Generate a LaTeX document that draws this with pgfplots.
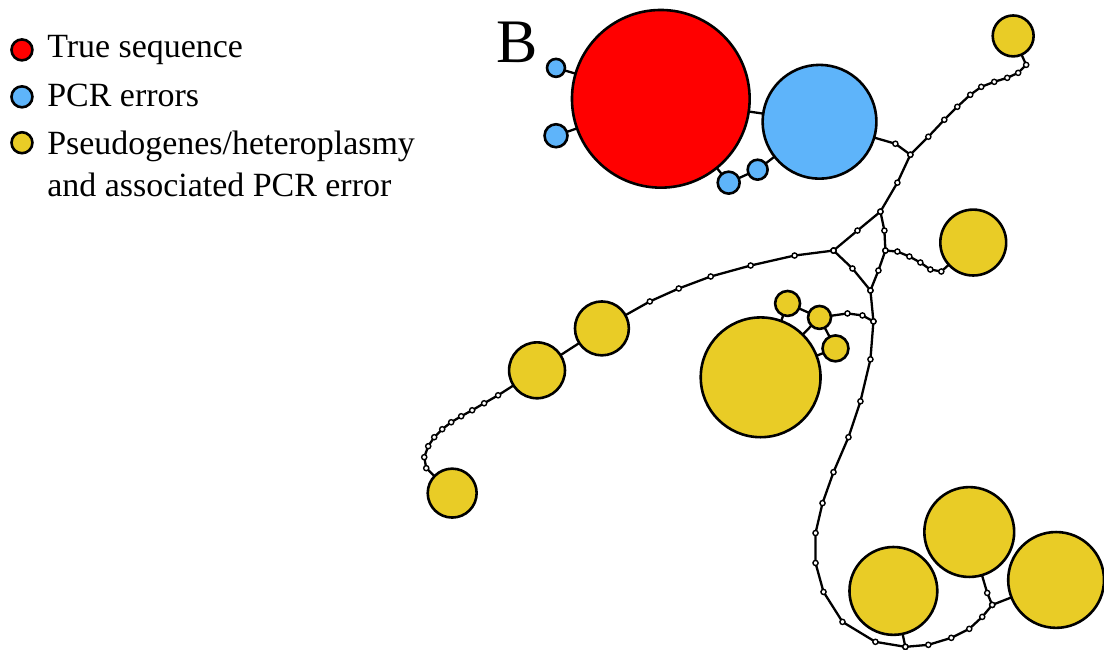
\documentclass[border=0pt]{standalone}
\usepackage{fontspec}
\setmainfont{Liberation Serif}
\usepackage{pgfplots}
\pgfplotsset{compat=1.18}
\definecolor{tred}{RGB}{255,0,0}
\definecolor{pblue}{RGB}{94,180,250}
\definecolor{pyel}{RGB}{233,204,38}
\pgfplotsset{
  edge/.style={black, line width=1.15pt, mark=*, mark size=1.3pt,
    mark options={fill=white, draw=black, line width=0.7pt, solid}},
  plain/.style={black, line width=1.15pt, no marks},
  hap/.style={only marks, scatter, mark=*,
    scatter/use mapped color={draw=black, fill=#1},
    visualization depends on={\thisrow{r}/2 \as \rr},
    scatter/@pre marker code/.append style={/tikz/mark size=\rr pt},
    mark options={line width=1.3pt}},
}
\begin{document}
\begin{tikzpicture}
\begin{axis}[
  x=0.5pt, y=0.5pt, y dir=reverse,
  xmin=0, xmax=1104, ymin=0, ymax=649,
  hide axis, clip=true,
]
% edges among true sequence and PCR errors
\addplot[plain] coordinates {(662,99) (557,68)};
\addplot[plain] coordinates {(662,99) (557,136)};
\addplot[plain] coordinates {(662,99) (730,183) (759,170) (821,122)};
\addplot[plain] coordinates {(662,99) (821,122)};
% small yellow cluster
\addplot[plain] coordinates {(762,378) (789,304) (821,318) (762,378)};
\addplot[plain] coordinates {(821,318) (837,349) (762,378)};
% network paths with mutation steps
\addplot[edge] coordinates {(821,122) (897,144) (912,155) (930,137) (946,120) (959,107) (972,95) (983,87) (996,82) (1009,78) (1020,73) (1028,65) (1015,36)};
\addplot[edge] coordinates {(912,155) (899,183) (882,212)};
\addplot[edge] coordinates {(835,251) (859,231) (882,212) (886,231) (887,251) (880,271) (872,291) (854,269) (835,251)};
\addplot[edge] coordinates {(887,251) (899,252) (911,257) (922,263) (932,270) (943,272) (975,243)};
\addplot[edge] coordinates {(835,251) (796,256) (752,266) (712,277) (680,289) (651,302) (603,329)};
\addplot[plain] coordinates {(603,329) (538,371)};
\addplot[edge] coordinates {(538,371) (499,396) (485,404) (473,411) (462,417) (452,423) (443,430) (435,438) (429,447) (425,458) (427,469) (453,494)};
\addplot[edge] coordinates {(872,291) (875,322) (872,360) (862,402) (850,438) (835,473) (824,504) (817,534) (817,564) (825,593) (844,623) (877,643) (907,648) (930,646) (953,639) (971,630) (984,618) (994,606) (1058,581)};
\addplot[edge] coordinates {(994,606) (989,594) (971,533)};
\addplot[edge] coordinates {(907,648) (895,592)};
\addplot[edge] coordinates {(875,322) (864,316) (849,314) (821,318)};
% haplotype circles
\addplot[hap=tred] table[x=x,y=y] {
x y r
662 99 89
};
\addplot[hap=pblue] table[x=x,y=y] {
x y r
557 68 9
557 136 11.5
730 183 11
759 170 10
821 122 57
};
\addplot[hap=pyel] table[x=x,y=y] {
x y r
1015 36 20.5
975 243 33
603 329 27
538 371 28
453 494 24.5
762 378 60
789 304 12.5
821 318 11.5
837 349 13
895 592 44
971 533 45
1058 581 48
};
% legend markers
\addplot[hap=tred] table[x=x,y=y] {
x y r
22 50 10.5
};
\addplot[hap=pblue] table[x=x,y=y] {
x y r
22 97 10.5
};
\addplot[hap=pyel] table[x=x,y=y] {
x y r
22 143 10.5
};
\node[anchor=base west, inner sep=0pt, font=\fontsize{17}{20}\selectfont] at (axis cs:47,58) {True sequence};
\node[anchor=base west, inner sep=0pt, font=\fontsize{17}{20}\selectfont] at (axis cs:47,107) {PCR errors};
\node[anchor=base west, inner sep=0pt, font=\fontsize{17}{20}\selectfont] at (axis cs:47,155) {Pseudogenes/heteroplasmy};
\node[anchor=base west, inner sep=0pt, font=\fontsize{17}{20}\selectfont] at (axis cs:47,197) {and associated PCR error};
\node[anchor=base west, inner sep=0pt, font=\fontsize{31}{36}\selectfont] at (axis cs:497,63) {B};
\path (axis cs:0,0) rectangle (axis cs:1104,649);
\end{axis}
\end{tikzpicture}
\end{document}
